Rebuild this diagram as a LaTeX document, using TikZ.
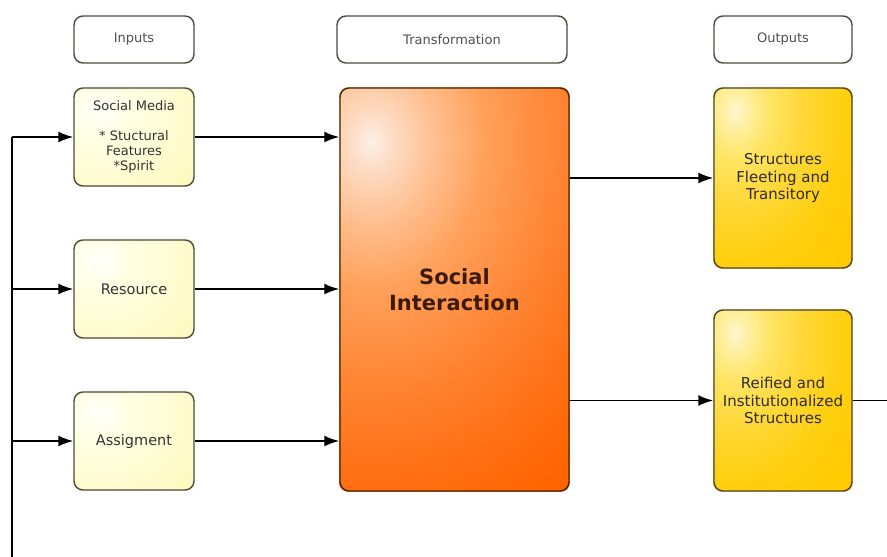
\documentclass[tikz,border=0pt]{standalone}
\usepackage{fontspec}
\setmainfont{DejaVu Sans}
\usetikzlibrary{arrows.meta,calc}
\pgfdeclarelayer{bg}
\pgfsetlayers{bg,main}
\definecolor{siA}{HTML}{FCF0E8}
\definecolor{siB}{HTML}{FDDCC4}
\definecolor{siC}{HTML}{FFBE8E}
\definecolor{siD}{HTML}{FFA05A}
\definecolor{siE}{HTML}{FF8838}
\definecolor{siF}{HTML}{FF7218}
\definecolor{siG}{HTML}{FF6400}
\definecolor{ouA}{HTML}{FFF6D0}
\definecolor{ouB}{HTML}{FFF0A0}
\definecolor{ouC}{HTML}{FFE566}
\definecolor{ouD}{HTML}{FFD838}
\definecolor{ouE}{HTML}{FFCF10}
\definecolor{ouF}{HTML}{FFCA00}
\definecolor{inA}{HTML}{FFFFFA}
\definecolor{inB}{HTML}{FFFFE2}
\definecolor{inC}{HTML}{FFF8BC}
\definecolor{hdtext}{HTML}{505050}
\definecolor{boxline}{HTML}{4A4A40}
\definecolor{sitext}{HTML}{3B1A08}
\pgfdeclareradialshading{siglow}{\pgfpoint{0bp}{0bp}}{color(0bp)=(siA); color(1.5bp)=(siB); color(4.5bp)=(siC); color(8bp)=(siD); color(12.5bp)=(siE); color(17.5bp)=(siF); color(22.5bp)=(siG); color(50bp)=(siG)}
\pgfdeclareradialshading{ouglow}{\pgfpoint{0bp}{0bp}}{color(0bp)=(ouA); color(2bp)=(ouB); color(5bp)=(ouC); color(10bp)=(ouD); color(16bp)=(ouE); color(22.5bp)=(ouF); color(50bp)=(ouF)}
\pgfdeclareradialshading{inglow}{\pgfpoint{0bp}{0bp}}{color(0bp)=(inA); color(6bp)=(inB); color(22.5bp)=(inC); color(50bp)=(inC)}
\newcommand{\glowbox}[7]{%
  \begin{pgfonlayer}{bg}
  \begin{scope}
    \clip[rounded corners=9pt] (#1.south west) rectangle (#1.north east);
    \fill[#3] (#1.south west) rectangle (#1.north east);
    \shade[shading=#2] ($(#1.north west)+(#4,#5)$) ellipse [x radius=#6, y radius=#7];
  \end{scope}
  \end{pgfonlayer}}
\tikzset{
  base/.style={draw=boxline, line width=1.4pt, rounded corners=9pt, inner sep=2pt, align=center},
  header/.style={base, fill=white, minimum height=47pt, text=hdtext, font=\fontsize{13}{15}\selectfont},
  inbox/.style={base, minimum width=120pt, minimum height=98pt, text=black!80, font=\fontsize{14.5}{17}\selectfont},
  outbox/.style={base, draw=black!70!yellow!60!black, minimum width=138pt, minimum height=180pt, text={black!85!yellow!40!black}, font=\fontsize{15}{17.5}\selectfont},
  sibox/.style={base, draw=black!60!orange!70!black, minimum width=229pt, minimum height=403pt, text=sitext, font=\bfseries\fontsize{21}{26}\selectfont},
  link/.style={line width=1.8pt, -{Latex[length=15pt,width=11pt]}},
  plain/.style={line width=1.8pt}
}
\begin{document}
\begin{tikzpicture}[x=1pt,y=-1pt]
\useasboundingbox (0,0) rectangle (887,557);
\clip (0,0) rectangle (887,557);
\begin{pgfonlayer}{bg}
\fill[white] (0,0) rectangle (887,557);
\end{pgfonlayer}
% headers
\node[header, minimum width=120pt] (hin) at (134,39.5) {Inputs};
\node[header, minimum width=230pt] (htr) at (452,39.5) {Transformation};
\node[header, minimum width=138pt] (hout) at (783,39.5) {Outputs};
% inputs
\node[inbox, font=\fontsize{13}{15}\selectfont] (sm) at (134,137) {Social Media\\[15pt]* Stuctural\\Features\\*Spirit};
\node[inbox] (res) at (134,289) {Resource};
\node[inbox] (asg) at (134,441) {Assigment};
\glowbox{sm}{inglow}{inC}{25}{22}{150pt}{130pt}
\glowbox{res}{inglow}{inC}{25}{22}{150pt}{130pt}
\glowbox{asg}{inglow}{inC}{25}{22}{150pt}{130pt}
% transformation
\node[sibox] (si) at (454.5,289.5) {Social\\Interaction};
\glowbox{si}{siglow}{siG}{32}{55}{360pt}{460pt}
% outputs
\node[outbox] (st) at (783,178) {Structures\\Fleeting and\\Transitory};
\node[outbox, minimum height=181pt] (re) at (783,400.5) {Reified and\\Institutionalized\\Structures};
\glowbox{st}{ouglow}{ouF}{22}{24}{170pt}{230pt}
\glowbox{re}{ouglow}{ouF}{22}{24}{170pt}{230pt}
% connectors
\draw[link] (sm.east) -- (sm.east -| si.west);
\draw[link] (res.east) -- (res.east -| si.west);
\draw[link] (asg.east) -- (asg.east -| si.west);
\draw[link] (st.west -| si.east) -- (st.west);
\draw[link] (re.west -| si.east) -- (re.west);
% feedback loop
\coordinate (fr) at (905,400.5);
\coordinate (frb) at (905,575);
\coordinate (flb) at (12,575);
\coordinate (fl) at (12,137);
\draw[plain] (re.east) -- (fr) -- (frb) -- (flb) -- (fl);
\draw[link] (fl) -- (sm.west);
\draw[link] (res.west -| fl) -- (res.west);
\draw[link] (asg.west -| fl) -- (asg.west);
\end{tikzpicture}
\end{document}
